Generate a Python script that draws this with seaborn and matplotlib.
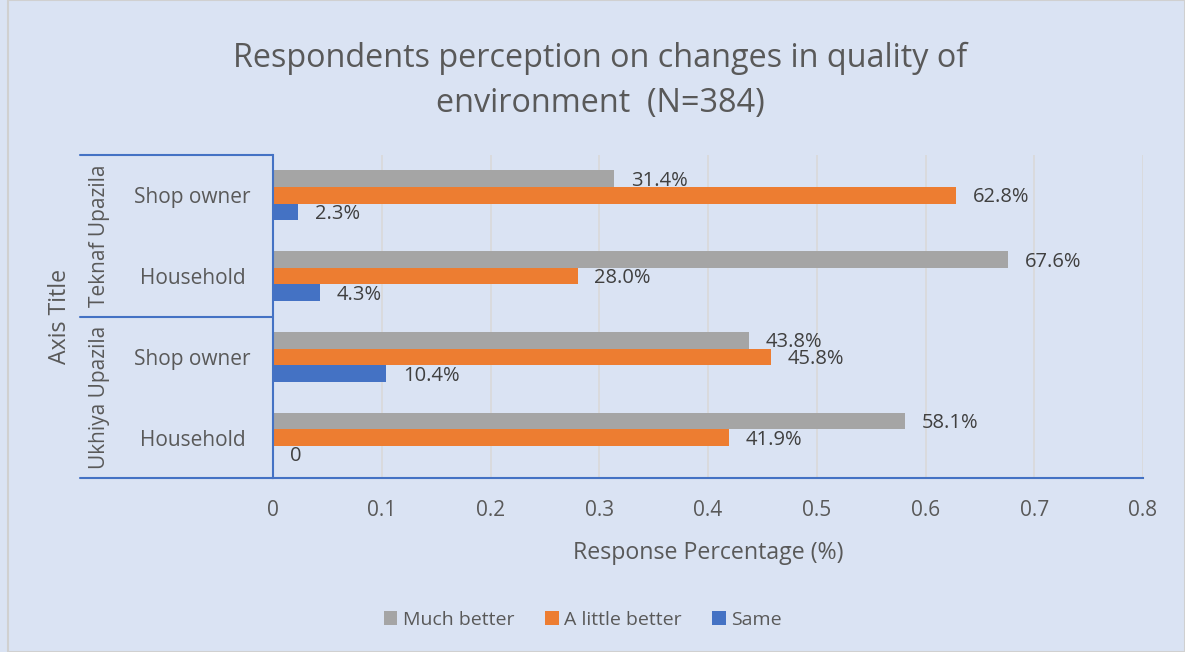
import pandas as pd
import matplotlib.pyplot as plt
import seaborn as sns
from matplotlib.patches import Patch, Rectangle
import matplotlib.transforms as mtransforms

sns.set_theme(style="white")
plt.rcParams["font.family"] = ["Open Sans", "DejaVu Sans"]

bg = "#DAE3F3"
txt = "#595959"

# data
keys = ["Teknaf|Shop owner", "Teknaf|Household", "Ukhiya|Shop owner", "Ukhiya|Household"]
tick_labels = ["Shop owner", "Household", "Shop owner", "Household"]
groups = ["Teknaf Upazila", "Ukhiya Upazila"]
series = ["Much better", "A little better", "Same"]
colors = ["#A5A5A5", "#ED7D31", "#4472C4"]
much_better = [0.314, 0.676, 0.438, 0.581]
little_better = [0.628, 0.280, 0.458, 0.419]
same = [0.023, 0.043, 0.104, 0.0]
label_much = ["31.4%", "67.6%", "43.8%", "58.1%"]
label_little = ["62.8%", "28.0%", "45.8%", "41.9%"]
label_same = ["2.3%", "4.3%", "10.4%", "0"]

rows = []
for vals, name in zip([much_better, little_better, same], series):
    for k, v in zip(keys, vals):
        rows.append({"key": k, "value": v, "series": name})
df = pd.DataFrame(rows)

fig = plt.figure(figsize=(11.85, 6.52), dpi=100, facecolor=bg)
fig.patches.append(Rectangle((8 / 1185, 0), 1 - 8 / 1185, 1, transform=fig.transFigure,
                             facecolor="none", edgecolor="#D0D0D0", lw=1.5))
ax = fig.add_axes([273 / 1185, 1 - 478 / 652, 870 / 1185, 323 / 652])
ax.set_facecolor(bg)

sns.barplot(data=df, y="key", x="value", hue="series", order=keys, hue_order=series,
            palette=colors, width=0.62, orient="h", ax=ax, legend=False,
            saturation=1, edgecolor="none")

for cont, labs in zip(ax.containers, [label_much, label_little, label_same]):
    anns = ax.bar_label(cont, labels=labs, padding=12, fontsize=14.5, color="#404040")
    for a in anns:
        a.xyann = (a.xyann[0], a.xyann[1] - 1.5)

ax.set_xlim(0, 0.8)
ax.set_ylim(3.5, -0.5)
ax.set_xticks([0, 0.1, 0.2, 0.3, 0.4, 0.5, 0.6, 0.7, 0.8])
ax.set_xticklabels(["0", "0.1", "0.2", "0.3", "0.4", "0.5", "0.6", "0.7", "0.8"])
ax.set_yticks(range(4))
ax.set_yticklabels(tick_labels, ha="center")
ax.tick_params(axis="y", length=0, pad=58, labelsize=15, labelcolor=txt)
ax.tick_params(axis="x", length=0, pad=16, labelsize=15, labelcolor=txt)
ax.xaxis.grid(True, color="#D9D9D9", lw=1.2)
ax.set_axisbelow(True)
ax.set_ylabel("")
ax.set_xlabel("Response Percentage (%)", fontsize=16.7, color=txt, labelpad=14)

for s in ["top", "right"]:
    ax.spines[s].set_visible(False)
for s in ["left", "bottom"]:
    ax.spines[s].set_color("#4472C4")
    ax.spines[s].set_linewidth(1.5)

# multi-level category axis
trans = mtransforms.blended_transform_factory(ax.transAxes, ax.transData)
x0 = (80 - 273) / 870
for yv in [-0.5, 1.5, 3.5]:
    ax.plot([x0, 0], [yv, yv], color="#4472C4", lw=1.5, transform=trans, clip_on=False)
for g, yc in zip(groups, [0.5, 2.5]):
    ax.text((100 - 273) / 870, yc, g, rotation=90, ha="center", va="center",
            fontsize=15, color=txt, transform=trans)
ax.text((60 - 273) / 870, 0.5, "Axis Title", rotation=90, ha="center", va="center",
        fontsize=16.7, color=txt, transform=ax.transAxes)

fig.text(600 / 1185, 1 - 81 / 652,
         "Respondents perception on changes in quality of\nenvironment  (N=384)",
         ha="center", va="center", fontsize=23.3, color=txt, linespacing=1.5)

handles = [Patch(facecolor=c, edgecolor="none") for c in colors]
fig.legend(handles, series, loc="center", bbox_to_anchor=(583 / 1185, 1 - 620 / 652),
           ncol=3, frameon=False, fontsize=14, labelcolor=txt,
           handlelength=0.7, handleheight=0.7, handletextpad=0.3, columnspacing=1.55)

fig.savefig("out.png", dpi=100, facecolor=bg)
